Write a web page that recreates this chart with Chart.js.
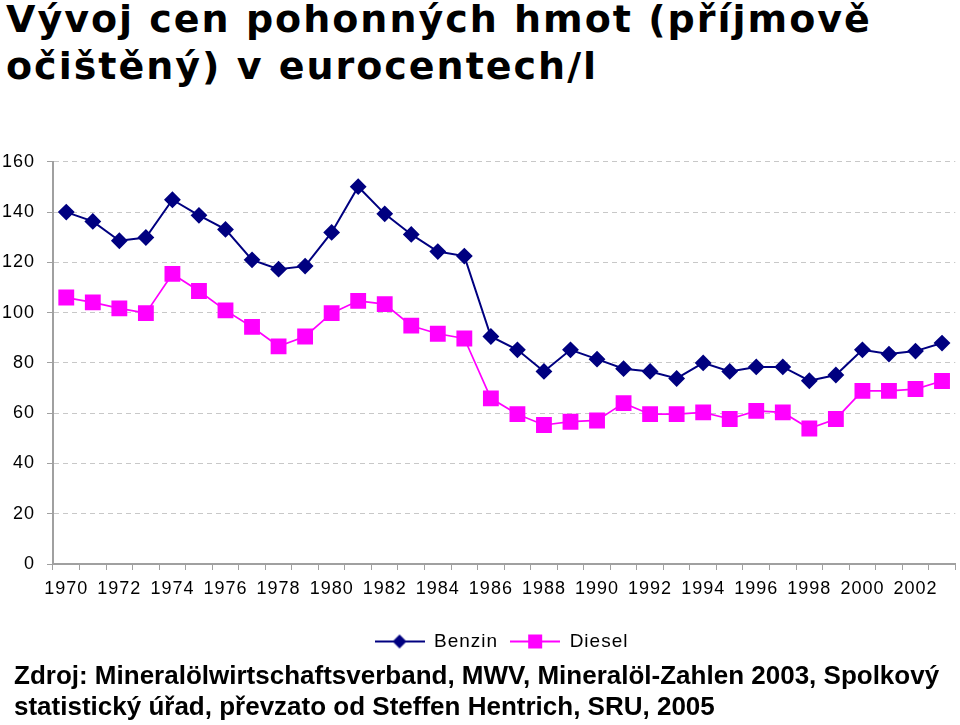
<!DOCTYPE html>
<html>
<head>
<meta charset="utf-8">
<script src="https://cdn.jsdelivr.net/npm/chart.js@4"></script>
<style>
    html, body { margin: 0; padding: 0; background: #fff; }
    body { width: 960px; height: 725px; position: relative; overflow: hidden; font-family: "Liberation Sans", Arial, sans-serif; }
    #title { position: absolute; left: 6px; top: -4px; font-family: "DejaVu Sans", Verdana, sans-serif; font-size: 38px; font-weight: bold; letter-spacing: 2px; line-height: 47px; color: #000; }
    #chart-wrap { position: absolute; left: 0; top: 139px; width: 967px; height: 522px; }
    #source { position: absolute; left: 14px; top: 660px; font-size: 26px; font-weight: bold; line-height: 31px; color: #000; }
</style>
</head>
<body>
<div id="title">Vývoj cen pohonných hmot (příjmově<br>očištěný) v eurocentech/l</div>
<div id="chart-wrap"><canvas id="fuel-chart"></canvas></div>
<div id="source">Zdroj: Mineralölwirtschaftsverband, MWV, Mineralöl-Zahlen 2003, Spolkový<br>statistický úřad, převzato od Steffen Hentrich, SRU, 2005</div>

<script>
// Data
const years = ['1970', '1971', '1972', '1973', '1974', '1975', '1976', '1977', '1978', '1979',
    '1980', '1981', '1982', '1983', '1984', '1985', '1986', '1987', '1988', '1989',
    '1990', '1991', '1992', '1993', '1994', '1995', '1996', '1997', '1998', '1999',
    '2000', '2001', '2002', '2003'];

const benzin = [140, 136.3, 128.6, 129.9, 144.9, 138.7, 133.1, 121, 117.3, 118.5,
    131.9, 150.1, 139.3, 131.1, 124.3, 122.5, 90.5, 85.2, 76.6, 85.2,
    81.5, 77.7, 76.6, 73.8, 80, 76.6, 78.4, 78.4, 72.9, 75.2,
    85.2, 83.5, 84.7, 87.9];

const diesel = [106, 104.1, 101.7, 99.8, 115.4, 108.6, 100.9, 94.3, 86.6, 90.5,
    99.8, 104.7, 103.4, 94.8, 91.6, 89.7, 65.9, 59.6, 55.3, 56.6,
    57.1, 64, 59.6, 59.6, 60.3, 57.7, 60.9, 60.3, 53.9, 57.7,
    68.9, 68.9, 69.6, 72.8];

const yTicks = [0, 20, 40, 60, 80, 100, 120, 140, 160];

const BENZIN_COLOR = '#000080';
const DIESEL_COLOR = '#ff00ff';
const AXIS_COLOR = '#a0a0a0';
const FONT = '"Liberation Sans", Arial, sans-serif';

// legend swatch: short line with the marker in the middle
function legendSwatch(color, style) {
    const c = document.createElement('canvas');
    c.width = 50;
    c.height = 16;
    const g = c.getContext('2d');
    g.strokeStyle = color;
    g.lineWidth = 2;
    g.beginPath();
    g.moveTo(0, 8);
    g.lineTo(50, 8);
    g.stroke();
    g.fillStyle = color;
    if (style === 'diamond') {
        g.beginPath();
        g.moveTo(25, 1);
        g.lineTo(32, 8);
        g.lineTo(25, 15);
        g.lineTo(18, 8);
        g.closePath();
        g.fill();
    } else {
        g.fillRect(18, 1, 14, 14);
    }
    return c;
}

// wider letter spacing like the original, and the legend sits a bit right of centre
const tweaks = {
    id: 'tweaks',
    beforeLayout(chart) {
        chart.ctx.letterSpacing = '1px';
    },
    afterLayout(chart) {
        chart.legend.left += 18;
        chart.legend.right += 18;
    },
    beforeDraw(chart) {
        chart.ctx.letterSpacing = '1px';
    }
};

const ctx = document.getElementById('fuel-chart');

new Chart(ctx, {
    type: 'line',
    data: {
        labels: years,
        datasets: [
            {
                label: 'Benzin',
                data: benzin,
                borderColor: BENZIN_COLOR,
                backgroundColor: BENZIN_COLOR,
                borderWidth: 2,
                pointStyle: 'rectRot',
                pointRadius: 7,
                pointHoverRadius: 7,
                tension: 0
            },
            {
                label: 'Diesel',
                data: diesel,
                borderColor: DIESEL_COLOR,
                backgroundColor: DIESEL_COLOR,
                borderWidth: 1.7,
                pointStyle: 'rect',
                pointRadius: 10,
                pointHoverRadius: 10,
                tension: 0
            }
        ]
    },
    options: {
        responsive: true,
        maintainAspectRatio: false,
        animation: false,
        layout: { padding: { top: 8, right: 0, left: 0, bottom: 0 } },
        plugins: {
            legend: {
                position: 'bottom',
                labels: {
                    usePointStyle: true,
                    pointStyleWidth: 50,
                    color: '#000',
                    font: { family: FONT, size: 19 },
                    padding: 12,
                    generateLabels: (chart) => chart.data.datasets.map((ds, i) => ({
                        text: ds.label,
                        fillStyle: ds.borderColor,
                        strokeStyle: ds.borderColor,
                        fontColor: '#000',
                        pointStyle: legendSwatch(ds.borderColor, i === 0 ? 'diamond' : 'square'),
                        datasetIndex: i,
                        hidden: false
                    }))
                }
            },
            tooltip: { enabled: false }
        },
        scales: {
            x: {
                offset: true,
                afterFit: (scale) => { scale.height = 56; },
                grid: {
                    offset: true,
                    drawOnChartArea: false,
                    drawTicks: true,
                    tickLength: 6,
                    color: AXIS_COLOR
                },
                border: { color: AXIS_COLOR, width: 2 },
                ticks: {
                    autoSkip: false,
                    maxRotation: 0,
                    color: '#000',
                    padding: 8,
                    font: { family: FONT, size: 18 },
                    callback: function (val, i) {
                        return i % 2 === 0 ? years[i] : '';
                    }
                }
            },
            y: {
                min: 0,
                max: 160,
                afterBuildTicks: (scale) => { scale.ticks = yTicks.map(v => ({ value: v })); },
                afterFit: (scale) => { scale.width = 53; },
                grid: {
                    color: '#c8c8c8',
                    drawTicks: true,
                    tickLength: 6,
                    tickColor: AXIS_COLOR
                },
                border: { color: AXIS_COLOR, width: 2, dash: [5, 4] },
                ticks: {
                    color: '#000',
                    padding: 12,
                    font: { family: FONT, size: 18 }
                }
            }
        }
    },
    plugins: [tweaks]
});
</script>
</body>
</html>
